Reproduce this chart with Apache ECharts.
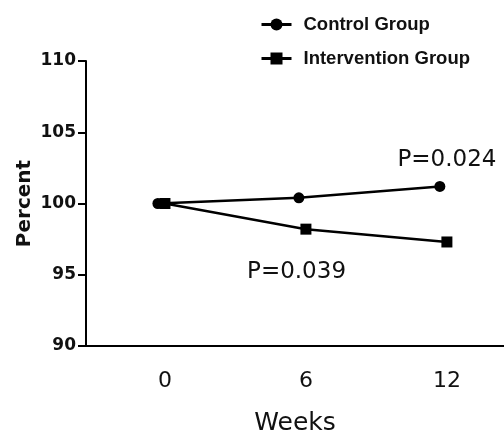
<!DOCTYPE html>
<html>
<head>
<meta charset="utf-8">
<script src="https://cdn.jsdelivr.net/npm/echarts@6/dist/echarts.min.js"></script>
<style>html,body{margin:0;padding:0;background:#fff;}#c{width:504px;height:434px;}</style>
</head>
<body>
<div id="c"></div>
<script>
// Data
const xTickLabels = [0, 6, 12];
const controlWeeks = [-0.3, 5.7, 11.7];
const controlValues = [100, 100.4, 101.2];
const interventionWeeks = [0, 6, 12];
const interventionValues = [100, 98.2, 97.3];
const pLabels = ['P=0.024', 'P=0.039'];
const pCoords = [[12.0, 103.05], [5.6, 95.2]];

const chart = echarts.init(document.getElementById('c'), null, {renderer: 'canvas'});
const pMark = (i) => ({
  coord: pCoords[i], symbol: 'rect', symbolSize: 1,
  itemStyle: {color: 'rgba(0,0,0,0)'},
  label: {show: true, position: 'inside', formatter: pLabels[i], color: '#111',
    fontFamily: 'DejaVu Sans', fontSize: 23}
});
chart.setOption({
  animation: false,
  backgroundColor: '#fff',
  grid: {left: 86, right: 0, top: 61, bottom: 88, outerBoundsMode: 'none', containLabel: false},
  legend: {
    orient: 'vertical', left: 255, top: 10, itemWidth: 30, itemHeight: 15, itemGap: 15,
    lineStyle: {width: 3},
    textStyle: {fontFamily: 'Liberation Sans', fontWeight: 'bold', fontSize: 18.5, color: '#111', padding: [0, 0, 0, 7]},
    data: ['Control Group', 'Intervention Group']
  },
  xAxis: {
    type: 'value', min: -3.36, max: 14.43,
    name: 'Weeks', nameLocation: 'middle', nameGap: 65,
    nameTextStyle: {fontFamily: 'DejaVu Sans', fontSize: 25, color: '#111'},
    axisLine: {show: true, onZero: false, lineStyle: {color: '#000', width: 2}},
    axisTick: {show: false},
    splitLine: {show: false},
    axisLabel: {customValues: xTickLabels, fontFamily: 'DejaVu Sans', fontSize: 22, color: '#111', margin: 24}
  },
  yAxis: {
    type: 'value', min: 90, max: 110, interval: 5,
    name: 'Percent', nameLocation: 'middle', nameRotate: 90, nameGap: 51, nameMoveOverlap: false,
    nameTextStyle: {fontFamily: 'DejaVu Sans', fontWeight: 'bold', fontSize: 20, color: '#111'},
    axisLine: {show: true, onZero: false, lineStyle: {color: '#000', width: 2}},
    axisTick: {show: true, inside: false, length: 8, lineStyle: {color: '#000', width: 2}},
    splitLine: {show: false},
    axisLabel: {fontFamily: 'DejaVu Sans', fontWeight: 'bold', fontSize: 17, color: '#111', margin: 10}
  },
  series: [
    {
      name: 'Control Group', type: 'line', symbol: 'circle', symbolSize: 11,
      data: controlWeeks.map((w, i) => [w, controlValues[i]]),
      lineStyle: {color: '#000', width: 2.5}, itemStyle: {color: '#000'},
      markPoint: {data: [pMark(0)]}
    },
    {
      name: 'Intervention Group', type: 'line', symbol: 'rect', symbolSize: 11,
      data: interventionWeeks.map((w, i) => [w, interventionValues[i]]),
      lineStyle: {color: '#000', width: 2.5}, itemStyle: {color: '#000'},
      markPoint: {data: [pMark(1)]}
    }
  ]
});
</script>
</body>
</html>
